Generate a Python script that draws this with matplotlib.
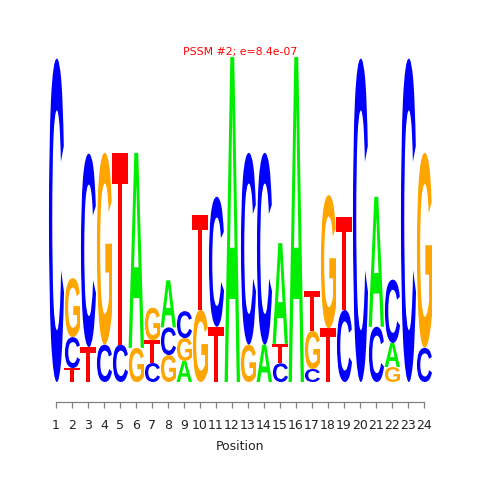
import matplotlib
matplotlib.use("Agg")
import numpy as np
import matplotlib.pyplot as plt
from matplotlib.textpath import TextPath
from matplotlib.font_manager import FontProperties
from matplotlib.patches import PathPatch
from matplotlib.path import Path

# Information content (bits) per base at each motif position
positions = list(range(1, 25))
a_bits = [0, 0, 0, 0, 0, 1.2, 0, 0.29, 0.13, 0, 0, 2.0,
          0, 0.23, 0.62, 2.0, 0, 0, 0, 0, 0.8, 0.148, 0, 0]
c_bits = [1.99, 0.19, 1.19, 0.23, 0.23, 0, 0.117, 0.17, 0.166, 0, 0.8, 0,
          1.18, 1.18, 0.115, 0, 0.08, 0, 0.443, 1.99, 0.34, 0.39, 1.99, 0.21]
g_bits = [0, 0.363, 0, 1.18, 0, 0.21, 0.2, 0.166, 0.14, 0.443, 0, 0,
          0.23, 0, 0, 0, 0.234, 0.82, 0, 0, 0, 0.092, 0, 1.2]
t_bits = [0, 0.086, 0.215, 0, 1.18, 0, 0.14, 0, 0, 0.585, 0.34, 0,
          0, 0, 0.12, 0, 0.246, 0.33, 0.57, 0, 0, 0, 0, 0]

title = "PSSM #2; e=8.4e-07"

colors = {"A": "#00ee00", "C": "#0000ff", "G": "#ffa500", "T": "#ff0000"}
fp = FontProperties(family="Liberation Sans", weight="bold")

# cache normalised glyph paths (unit box)
glyphs = {}
for base in "ACGT":
    tp = TextPath((0, 0), base, size=1, prop=fp)
    verts = tp.vertices.copy()
    x0, y0 = verts.min(axis=0)
    x1, y1 = verts.max(axis=0)
    verts[:, 0] = (verts[:, 0] - x0) / (x1 - x0)
    verts[:, 1] = (verts[:, 1] - y0) / (y1 - y0)
    glyphs[base] = Path(verts, tp.codes)


def draw_letter(ax, base, x, y, h, w=1.0):
    p = glyphs[base]
    verts = p.vertices.copy()
    verts[:, 0] = x - w / 2 + verts[:, 0] * w
    verts[:, 1] = y + verts[:, 1] * h
    ax.add_patch(PathPatch(Path(verts, p.codes), facecolor=colors[base],
                           edgecolor="none", lw=0))


fig = plt.figure(figsize=(4.8, 4.8), dpi=100)
ax = fig.add_axes([48 / 480, 98 / 480, 384 / 480, 325 / 480])

for i, pos in enumerate(positions):
    col = [("A", a_bits[i]), ("C", c_bits[i]), ("G", g_bits[i]), ("T", t_bits[i])]
    col = sorted([c for c in col if c[1] > 0], key=lambda c: c[1])
    bottom = 0.0
    for base, h in col:
        draw_letter(ax, base, pos, bottom, h)
        bottom += h

ax.set_xlim(0.5, 24.5)
ax.set_ylim(0, 2)

for side in ["top", "right", "left"]:
    ax.spines[side].set_visible(False)
ax.spines["bottom"].set_position(("outward", 14.4))
ax.spines["bottom"].set_bounds(1, 24)
ax.spines["bottom"].set_color("#808080")
ax.spines["bottom"].set_linewidth(0.9)
ax.set_yticks([])
ax.set_xticks(positions)
ax.tick_params(axis="x", length=4.5, width=0.9, color="#808080",
               labelsize=9, pad=7.5, labelcolor="#222222")
ax.set_xlabel("Position", fontsize=9, labelpad=6, color="#222222")

fig.text(0.5, 1 - 52 / 480, title, color="#ff0000", fontsize=7.8,
         ha="center", va="center")

fig.savefig("out.png", dpi=100)
